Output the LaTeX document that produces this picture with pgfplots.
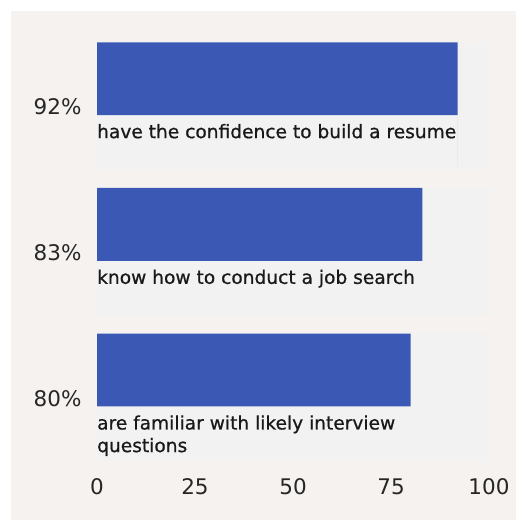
\documentclass[border=0pt]{standalone}
\usepackage{fontspec}
\setmainfont{DejaVu Sans}
\usepackage{pgfplots}
\pgfplotsset{compat=1.18}
\definecolor{paper}{RGB}{246,242,239}
\definecolor{band}{RGB}{242,242,242}
\definecolor{barblue}{RGB}{59,89,180}
\newcommand{\lbl}{\fontsize{18.6bp}{22bp}\selectfont\addfontfeature{FakeBold=0.7}}

\begin{document}
\begin{tikzpicture}[x=1bp,y=1bp]
\fill[white] (0,0) rectangle (516,520);
\fill[paper] (11,0) rectangle (516,509);
\begin{axis}[
  at={(97bp,57bp)}, anchor=south west,
  scale only axis, width=392bp, height=421bp,
  xmin=0, xmax=100, ymin=-0.44, ymax=2.45, y dir=reverse,
  axis line style={draw=none}, major tick style={draw=none},
  xtick={0,25,50,75,100},
  ytick={0,1,2}, yticklabels={92\%,83\%,80\%},
  ticklabel style={font=\fontsize{21.5bp}{24bp}\selectfont, text=black!85},
  xticklabel style={yshift=-12bp},
  yticklabel style={xshift=-12bp, yshift=-1bp},
  /pgf/number format/assume math mode=true,
  clip=false,
]
% light band behind each item, full 0-100 width
\addplot[xbar, fill=band, draw=none, bar width=0.877] coordinates {(100,0) (100,1) (100,2)};
% the values
\addplot[xbar, fill=barblue, draw=none, bar width=0.5] coordinates {(92,-0.188) (83,0.812) (80,1.812)};

\draw[barblue!12, line width=0.8bp] (axis cs:92,0.065) -- (axis cs:92,0.42);

\node[anchor=base west, inner sep=0pt, font=\lbl, text=black!90] at (axis cs:0,0.22) {have the confidence to build a resume};
\node[anchor=base west, inner sep=0pt, font=\lbl, text=black!90] at (axis cs:0,1.22) {know how to conduct a job search};
\node[anchor=base west, inner sep=0pt, font=\lbl, text=black!90] at (axis cs:0,2.22) {are familiar with likely interview};
\node[anchor=base west, inner sep=0pt, font=\lbl, text=black!90] at (axis cs:0,2.375) {questions};
\end{axis}
\pgfresetboundingbox
\useasboundingbox (0,0) rectangle (516,520);
\end{tikzpicture}
\end{document}
